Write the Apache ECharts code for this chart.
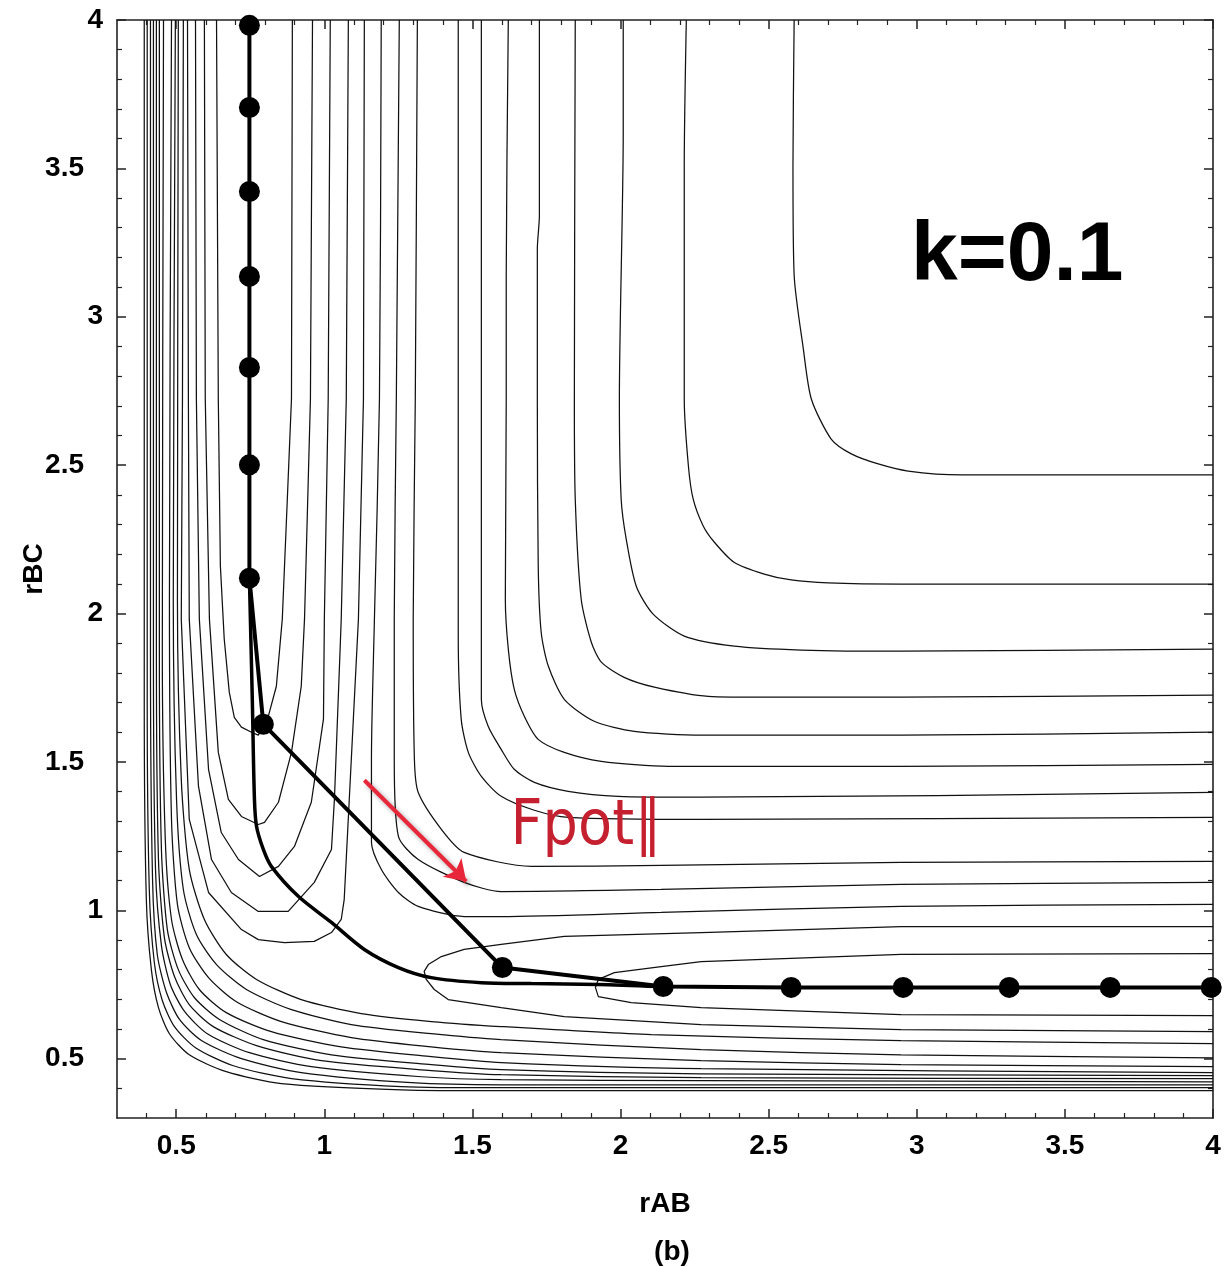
<!DOCTYPE html>
<html><head><meta charset="utf-8">
<script src="https://cdn.jsdelivr.net/npm/echarts@6/dist/echarts.min.js"></script>
<style>html,body{margin:0;padding:0;background:#fff}#c{width:1225px;height:1267px}</style>
</head><body><div id="c"></div>
<script>
// ---------- tick values ----------
const xMajorTicks = [0.5, 1, 1.5, 2, 2.5, 3, 3.5, 4];
const yMajorTicks = [0.5, 1, 1.5, 2, 2.5, 3, 3.5, 4];
const xMinorTicks = [0.4, 0.6, 0.7, 0.8, 0.9, 1.1, 1.2, 1.3, 1.4, 1.6, 1.7, 1.8, 1.9, 2.1, 2.2, 2.3, 2.4, 2.6, 2.7, 2.8, 2.9, 3.1, 3.2, 3.3, 3.4, 3.6, 3.7, 3.8, 3.9];
const yMinorTicks = [0.4, 0.6, 0.7, 0.8, 0.9, 1.1, 1.2, 1.3, 1.4, 1.6, 1.7, 1.8, 1.9, 2.1, 2.2, 2.3, 2.4, 2.6, 2.7, 2.8, 2.9, 3.1, 3.2, 3.3, 3.4, 3.6, 3.7, 3.8, 3.9];

// ---------- contour lines (rAB, rBC) ----------
const cA1 = [[2.586,4.0],[2.582,3.509],[2.586,3.14],[2.617,2.892],[2.644,2.723],[2.711,2.588],[2.779,2.538],[2.870,2.504],[2.971,2.480],[3.150,2.467],[4.0,2.467]];
const cA2 = [[2.222,4.0],[2.215,3.509],[2.215,2.723],[2.229,2.497],[2.245,2.386],[2.279,2.295],[2.316,2.241],[2.383,2.173],[2.485,2.133],[2.576,2.113],[2.701,2.103],[2.947,2.099],[4.0,2.099]];
const cA3 = [[2.009,4.0],[2.009,3.62],[1.996,2.723],[2.002,2.386],[2.019,2.251],[2.053,2.092],[2.110,1.998],[2.215,1.924],[2.384,1.890],[2.610,1.877],[2.947,1.873],[4.0,1.880]];
const cA4 = [[1.847,4.0],[1.844,2.723],[1.847,2.386],[1.867,2.049],[1.901,1.904],[1.935,1.836],[2.012,1.785],[2.114,1.752],[2.296,1.721],[2.498,1.718],[2.947,1.718],[4.0,1.725]];
const cA5 = [[1.726,4.0],[1.726,3.341],[1.719,3.229],[1.719,2.723],[1.722,2.160],[1.732,1.937],[1.756,1.823],[1.810,1.711],[1.911,1.637],[2.046,1.603],[2.272,1.590],[2.947,1.590],[4.0,1.600]];
const cA6 = [[1.621,4.0],[1.614,3.138],[1.614,2.723],[1.611,2.049],[1.621,1.880],[1.641,1.745],[1.675,1.654],[1.722,1.576],[1.810,1.532],[1.935,1.502],[2.161,1.485],[2.947,1.485],[4.0,1.492]];
const cA7 = [[1.530,4.0],[1.530,1.711],[1.553,1.620],[1.597,1.542],[1.641,1.475],[1.709,1.431],[1.823,1.401],[1.992,1.384],[2.272,1.381],[4.0,1.397]];
const cA8 = [[1.452,4.0],[1.452,1.937],[1.462,1.644],[1.486,1.532],[1.530,1.451],[1.597,1.384],[1.709,1.337],[1.823,1.313],[2.272,1.306],[4.0,1.313]];
const cA9 = [[1.314,4.0],[1.307,2.723],[1.300,1.981],[1.304,1.509],[1.317,1.397],[1.395,1.273],[1.472,1.195],[1.699,1.148],[2.137,1.151],[2.947,1.161],[4.0,1.165]];
const cA10 = [[1.253,4.0],[1.243,2.723],[1.236,1.981],[1.236,1.509],[1.250,1.249],[1.317,1.171],[1.472,1.094],[1.597,1.063],[2.137,1.070],[2.947,1.087],[4.0,1.094]];
const cA11 = [[1.192,4.0],[1.186,2.723],[1.169,1.981],[1.159,1.509],[1.159,1.229],[1.192,1.138],[1.250,1.060],[1.317,1.013],[1.472,0.979],[1.597,0.979],[2.137,0.993],[2.947,1.013],[4.0,1.020]];

const cU1 = [[0.636,4.0],[0.642,2.723],[0.649,2.160],[0.662,1.914],[0.679,1.735],[0.696,1.650],[0.720,1.617],[0.754,1.600],[0.777,1.590],[0.811,1.654],[0.838,1.755],[0.858,1.981],[0.875,2.386],[0.889,2.723],[0.892,4.0]];
const cU2 = [[0.595,4.0],[0.598,2.723],[0.612,1.981],[0.642,1.532],[0.676,1.374],[0.720,1.316],[0.777,1.289],[0.798,1.296],[0.845,1.364],[0.889,1.532],[0.922,1.755],[0.933,1.981],[0.953,2.723],[0.960,4.0]];
const cU3 = [[0.565,4.0],[0.568,2.723],[0.578,1.981],[0.609,1.475],[0.652,1.262],[0.710,1.171],[0.781,1.114],[0.845,1.148],[0.899,1.215],[0.956,1.364],[0.997,1.644],[1.0,1.981],[1.013,2.723],[1.020,4.0]];
const cU4 = [[0.538,4.0],[0.541,2.723],[0.544,1.981],[0.575,1.418],[0.619,1.171],[0.686,1.060],[0.777,0.996],[0.878,0.996],[0.966,1.094],[1.024,1.205],[1.034,1.374],[1.057,1.981],[1.074,2.723],[1.081,4.0]];
const cU5 = [[0.524,4.0],[0.521,2.723],[0.517,1.981],[0.544,1.306],[0.609,1.060],[0.720,0.935],[0.777,0.901],[0.865,0.891],[0.966,0.895],[1.024,0.925],[1.057,0.969],[1.067,1.036],[1.091,1.509],[1.115,1.981],[1.132,2.723],[1.135,4.0]];

const cL1 = [[4.0,0.945],[2.947,0.945],[2.272,0.925],[1.810,0.912],[1.597,0.885],[1.472,0.868],[1.395,0.844],[1.351,0.817],[1.337,0.794],[1.344,0.767],[1.371,0.733],[1.418,0.699],[1.597,0.672],[1.810,0.642],[2.272,0.615],[2.947,0.598],[4.0,0.591]];
const cL2 = [[4.0,0.854],[2.947,0.851],[2.272,0.827],[2.137,0.810],[1.979,0.790],[1.925,0.767],[1.915,0.740],[1.925,0.709],[2.036,0.689],[2.272,0.672],[2.947,0.648],[4.0,0.645]];

const cW1 = [[0.507,4.0],[0.504,2.049],[0.517,1.441],[0.544,1.138],[0.595,0.969],[0.669,0.851],[0.771,0.767],[0.922,0.699],[1.125,0.652],[1.361,0.625],[1.597,0.608],[2.104,0.581],[2.947,0.561],[4.0,0.551]];
const cW2 = [[0.497,4.0],[0.490,2.049],[0.501,1.374],[0.524,1.070],[0.568,0.918],[0.636,0.817],[0.737,0.733],[0.889,0.665],[1.091,0.615],[1.361,0.584],[1.597,0.564],[2.272,0.530],[2.947,0.513],[4.0,0.503]];
const cW3 = [[0.484,4.0],[0.477,2.049],[0.484,1.306],[0.504,1.020],[0.544,0.874],[0.609,0.773],[0.703,0.692],[0.855,0.625],[1.091,0.571],[1.361,0.540],[1.597,0.520],[2.272,0.493],[2.947,0.480],[4.0,0.473]];
const cW4 = [[0.457,4.0],[0.453,1.880],[0.463,1.239],[0.484,0.969],[0.521,0.834],[0.578,0.733],[0.669,0.655],[0.821,0.591],[1.057,0.540],[1.361,0.507],[1.597,0.487],[2.272,0.466],[4.0,0.453]];
const cW5 = [[0.443,4.0],[0.443,1.880],[0.450,1.205],[0.470,0.935],[0.507,0.800],[0.561,0.706],[0.646,0.632],[0.794,0.564],[1.024,0.513],[1.361,0.480],[1.597,0.463],[2.272,0.449],[4.0,0.443]];
const cW6 = [[0.433,4.0],[0.433,1.880],[0.440,1.171],[0.460,0.908],[0.494,0.777],[0.544,0.682],[0.625,0.608],[0.771,0.544],[0.990,0.493],[1.361,0.460],[1.597,0.446],[2.272,0.436],[4.0,0.433]];
const cW7 = [[0.423,4.0],[0.423,1.880],[0.430,1.138],[0.450,0.881],[0.480,0.750],[0.528,0.659],[0.605,0.584],[0.747,0.520],[0.956,0.473],[1.327,0.439],[1.597,0.429],[2.272,0.426],[4.0,0.422]];
const cW8 = [[0.413,4.0],[0.413,1.880],[0.420,1.104],[0.436,0.851],[0.467,0.723],[0.511,0.632],[0.585,0.561],[0.720,0.500],[0.922,0.453],[1.294,0.419],[1.597,0.412],[4.0,0.412]];
const cW9 = [[0.402,4.0],[0.402,1.711],[0.409,1.070],[0.426,0.824],[0.453,0.696],[0.494,0.608],[0.565,0.537],[0.693,0.476],[0.889,0.433],[1.260,0.406],[1.597,0.402],[4.0,0.402]];
const cW10 = [[0.392,4.0],[0.392,1.711],[0.399,1.036],[0.416,0.800],[0.440,0.672],[0.477,0.584],[0.544,0.513],[0.669,0.456],[0.855,0.416],[1.260,0.395],[1.597,0.392],[4.0,0.392]];

// ---------- trajectories ----------
const pathX = [0.747,0.747,0.747,0.747,0.747,0.747,0.747,0.794,1.601,2.144,2.576,2.954,3.312,3.653,3.994];
const pathY = [3.982,3.705,3.422,3.136,2.829,2.501,2.119,1.627,0.807,0.743,0.740,0.740,0.740,0.740,0.740];
const mepX = [0.747,0.757,0.764,0.771,0.794,0.821,0.912,1.024,1.135,1.250,1.361,1.530,1.699,1.925,2.127];
const mepY = [2.119,1.700,1.374,1.283,1.205,1.148,1.047,0.959,0.868,0.807,0.773,0.756,0.753,0.750,0.743];

// ---------- annotations ----------
const arrowFrom = [1.135, 1.438];
const arrowTo = [1.479, 1.097];
const labelK = {text: 'k=0.1', pos: [3.339, 3.202]};
const labelF = {text: 'Fpot\u2225', pos: [1.884, 1.279]};

const smoothContours = [cA1,cA2,cA3,cA4,cA5,cA6,cA7,cA8,cA9,cA10,cA11,cW1,cW2,cW3,cW4,cW5,cW6,cW7,cW8,cW9,cW10];
const sharpContours = [cU1,cU2,cU3,cU4,cU5,cL1,cL2];

const FONT = "'Liberation Sans Narrow','Liberation Sans',Arial,sans-serif";
const lab = {fontSize: 28, fontWeight: 'bold', fontFamily: FONT, color: '#000'};

function axisPair(dim, pos, major, minor, withLabels, name) {
  const base = {type: 'value', min: 0.3, max: 4, position: pos, splitLine: {show: false}};
  let labelCfg = {show: false};
  if (withLabels) {
    labelCfg = Object.assign({show: true, customValues: major, margin: 14}, lab);
    if (dim === 'y') {
      labelCfg.formatter = v => Number.isInteger(v) ? String(v) : '{d|' + v + '}';
      labelCfg.rich = {d: Object.assign({padding: [0, 19, 0, 0]}, lab)};
    } else {
      labelCfg.formatter = v => String(v);
    }
  }
  const a = Object.assign({}, base, {
    axisLine: {show: true, onZero: false, lineStyle: {color: '#222', width: 1.6}},
    axisTick: {show: true, inside: true, length: 9, customValues: major, lineStyle: {color: '#222', width: 1.5}},
    axisLabel: labelCfg
  });
  if (name) {
    a.name = name; a.nameLocation = 'middle';
    a.nameGap = dim === 'x' ? 72 : 69;
    a.nameMoveOverlap = false;
    a.nameTextStyle = Object.assign({}, lab);
  }
  const b = Object.assign({}, base, {
    axisLine: {show: false, onZero: false},
    axisTick: {show: true, inside: true, length: 5, customValues: minor, lineStyle: {color: '#222', width: 1.2}},
    axisLabel: {show: false}
  });
  return [a, b];
}

const xAxes = [...axisPair('x', 'bottom', xMajorTicks, xMinorTicks, true, 'rAB'), ...axisPair('x', 'top', xMajorTicks, xMinorTicks, false)];
const yAxes = [...axisPair('y', 'left', yMajorTicks, yMinorTicks, true, 'rBC'), ...axisPair('y', 'right', yMajorTicks, yMinorTicks, false)];

const series = [];
smoothContours.forEach(c => series.push({type: 'line', data: c, symbol: 'none', smooth: 0.25, silent: true, lineStyle: {color: '#111', width: 1.25}, z: 2}));
sharpContours.forEach(c => series.push({type: 'line', data: c, symbol: 'none', smooth: false, silent: true, lineStyle: {color: '#111', width: 1.25}, z: 2}));
series.push({type: 'line', data: mepX.map((x, i) => [x, mepY[i]]), symbol: 'none', smooth: 0.3, lineStyle: {color: '#000', width: 3.5}, z: 4});
series.push({type: 'line', data: pathX.map((x, i) => [x, pathY[i]]), symbol: 'circle', symbolSize: 21, showSymbol: true, clip: false, itemStyle: {color: '#000'}, lineStyle: {color: '#000', width: 4}, z: 5});
series.push({type: 'lines', coordinateSystem: 'cartesian2d', data: [{coords: [arrowFrom, arrowTo]}], symbol: ['none', 'arrow'], symbolSize: 20,
  lineStyle: {color: '#e8283a', width: 4, opacity: 1, shadowColor: 'rgba(0,0,0,0.35)', shadowBlur: 5, shadowOffsetX: 3, shadowOffsetY: 3}, z: 6});
series.push({type: 'scatter', data: [labelK.pos], symbolSize: 1, itemStyle: {color: 'rgba(0,0,0,0)', opacity: 1}, silent: true, z: 7,
  label: {show: true, position: 'inside', formatter: labelK.text, fontSize: 84, fontWeight: 'bold', fontFamily: "'Liberation Sans',Arial,sans-serif", color: '#000', opacity: 1, textBorderWidth: 0}});
series.push({type: 'scatter', data: [labelF.pos], symbolSize: 1, itemStyle: {color: 'rgba(0,0,0,0)', opacity: 1}, silent: true, z: 7,
  label: {show: true, position: 'inside', formatter: labelF.text, fontSize: 62, fontFamily: "'DejaVu Sans Condensed','DejaVu Sans',sans-serif", color: '#c4202f', opacity: 1, textBorderWidth: 0}});

const option = {
  animation: false,
  backgroundColor: '#fff',
  grid: {left: 117, right: 12, top: 20, bottom: 149, containLabel: false, outerBoundsMode: 'none'},
  title: {text: '(b)', left: 667, top: 1233, textAlign: 'center', textStyle: Object.assign({}, lab)},
  xAxis: xAxes,
  yAxis: yAxes,
  series: series
};
const chart = echarts.init(document.getElementById('c'), null, {renderer: 'canvas'});
chart.setOption(option);
</script></body></html>
